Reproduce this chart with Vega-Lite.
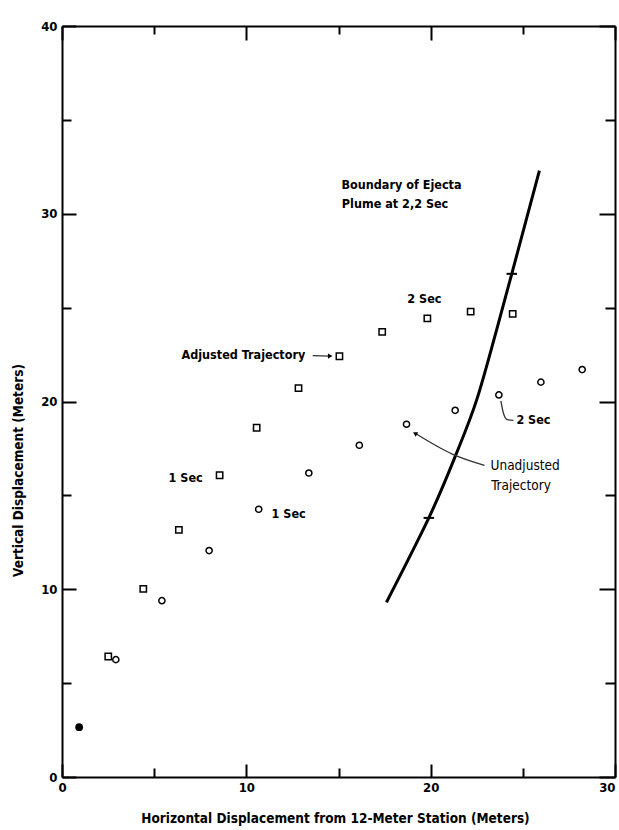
{
  "$schema": "https://vega.github.io/schema/vega-lite/v6.json",
  "width": 553,
  "height": 751,
  "autosize": {"type": "none"},
  "padding": {"left": 62, "top": 26, "right": 4, "bottom": 53},
  "background": "white",
  "config": {
    "view": {"stroke": null},
    "font": "DejaVu Sans Condensed, DejaVu Sans, sans-serif",
    "point": {"opacity": 1},
    "axis": {
      "domainColor": "black",
      "domainWidth": 2,
      "tickColor": "black",
      "tickWidth": 2,
      "grid": false,
      "labelFont": "DejaVu Sans Condensed, DejaVu Sans, sans-serif",
      "labelFontSize": 13,
      "labelFontWeight": "bold",
      "labelColor": "black",
      "titleFont": "DejaVu Sans Condensed, DejaVu Sans, sans-serif",
      "titleFontSize": 13.5,
      "titleFontWeight": "bold",
      "titleColor": "black"
    },
    "text": {"font": "DejaVu Sans Condensed, DejaVu Sans, sans-serif", "fontWeight": "bold", "fontSize": 12.5, "color": "black"}
  },
  "datasets": {
    "adjusted": [
      {"h": 2.51, "v": 6.42}, {"h": 4.41, "v": 10.02}, {"h": 6.34, "v": 13.16},
      {"h": 8.55, "v": 16.07}, {"h": 10.56, "v": 18.6}, {"h": 12.83, "v": 20.71},
      {"h": 15.05, "v": 22.41}, {"h": 17.37, "v": 23.71}, {"h": 19.82, "v": 24.43},
      {"h": 22.17, "v": 24.79}, {"h": 24.45, "v": 24.67}
    ],
    "unadjusted": [
      {"h": 2.92, "v": 6.25}, {"h": 5.42, "v": 9.39}, {"h": 7.98, "v": 12.06},
      {"h": 10.67, "v": 14.26}, {"h": 13.39, "v": 16.19}, {"h": 16.13, "v": 17.67},
      {"h": 18.69, "v": 18.79}, {"h": 21.33, "v": 19.53}, {"h": 23.7, "v": 20.35},
      {"h": 25.98, "v": 21.03}, {"h": 28.22, "v": 21.7}
    ],
    "start": [{"h": 0.93, "v": 2.65}],
    "boundary": [
      {"h": 17.6, "v": 9.3}, {"h": 19.1, "v": 12.2}, {"h": 19.9, "v": 13.8},
      {"h": 21.3, "v": 17.0}, {"h": 22.5, "v": 20.1}, {"h": 23.6, "v": 23.9},
      {"h": 24.4, "v": 26.8}, {"h": 25.9, "v": 32.3}
    ],
    "crossings": [{"h": 19.9, "v": 13.8}, {"h": 24.4, "v": 26.8}],
    "leaders": [
      {"id": "adj", "ord": 1, "h": 13.6, "v": 22.44},
      {"id": "adj", "ord": 2, "h": 14.5, "v": 22.42},
      {"id": "unadj", "ord": 1, "h": 22.92, "v": 16.6},
      {"id": "unadj", "ord": 2, "h": 21.17, "v": 17.2},
      {"id": "unadj", "ord": 3, "h": 19.2, "v": 18.28},
      {"id": "sec2", "ord": 1, "h": 23.81, "v": 20.03},
      {"id": "sec2", "ord": 2, "h": 23.94, "v": 19.4},
      {"id": "sec2", "ord": 3, "h": 24.16, "v": 19.03},
      {"id": "sec2", "ord": 4, "h": 24.49, "v": 19.0}
    ],
    "headRight": [{"h": 14.55, "v": 22.42}],
    "headUpLeft": [{"h": 19.15, "v": 18.3}],
    "notesLeft": [
      {"h": 15.16, "v": 31.54, "label": "Boundary of Ejecta"},
      {"h": 15.18, "v": 30.53, "label": "Plume at 2,2 Sec"},
      {"h": 5.78, "v": 15.93, "label": "1 Sec"},
      {"h": 11.37, "v": 14.03, "label": "1 Sec"},
      {"h": 24.65, "v": 18.99, "label": "2 Sec"}
    ],
    "notesCenter": [{"h": 19.66, "v": 25.47, "label": "2 Sec"}],
    "notesRight": [{"h": 13.2, "v": 22.49, "label": "Adjusted Trajectory"}],
    "notesPlain": [
      {"h": 23.25, "v": 16.55, "label": "Unadjusted"},
      {"h": 23.28, "v": 15.49, "label": "Trajectory"}
    ]
  },
  "resolve": {"axis": {"x": "independent", "y": "independent"}},
  "layer": [
    {
      "data": {"name": "adjusted"},
      "mark": {"type": "point", "shape": "square", "size": 40, "filled": false, "stroke": "black", "strokeWidth": 1.5},
      "encoding": {
        "x": {
          "field": "h", "type": "quantitative",
          "scale": {"domain": [0, 30], "nice": false, "zero": true},
          "axis": {
            "orient": "bottom",
            "values": [0, 5, 10, 15, 20, 25, 30],
            "labelExpr": "datum.value % 10 === 0 ? datum.label : ''",
            "labelAlign": {"condition": {"test": "datum.value === 30", "value": "right"}, "value": "center"},
            "tickSize": {"condition": {"test": "datum.value % 10 === 0", "value": -13}, "value": -9},
            "labelPadding": 17,
            "labelFlush": false,
            "title": "Horizontal Displacement from 12-Meter Station (Meters)",
            "titleX": 273,
            "titleY": 41,
            "titleBaseline": "middle"
          }
        },
        "y": {
          "field": "v", "type": "quantitative",
          "scale": {"domain": [0, 40], "nice": false},
          "axis": {
            "orient": "left",
            "values": [0, 5, 10, 15, 20, 25, 30, 35, 40],
            "labelExpr": "datum.value % 10 === 0 ? datum.label : ''",
            "tickSize": {"condition": {"test": "datum.value % 10 === 0", "value": -14}, "value": -9},
            "labelPadding": 19,
            "labelFlush": false,
            "title": "Vertical Displacement (Meters)",
            "titleX": -44,
            "titleY": 444,
            "titleAngle": -90,
            "titleBaseline": "middle"
          }
        }
      }
    },
    {
      "data": {"name": "unadjusted"},
      "mark": {"type": "point", "shape": "circle", "size": 38, "filled": false, "stroke": "black", "strokeWidth": 1.5},
      "encoding": {
        "x": {
          "field": "h", "type": "quantitative",
          "axis": {
            "orient": "top",
            "values": [0, 5, 10, 15, 20, 25, 30],
            "labels": false,
            "title": null,
            "tickSize": {"condition": {"test": "datum.value % 10 === 0", "value": -14}, "value": -8}
          }
        },
        "y": {
          "field": "v", "type": "quantitative",
          "axis": {
            "orient": "right",
            "values": [0, 5, 10, 15, 20, 25, 30, 35, 40],
            "labels": false,
            "title": null,
            "tickSize": {"condition": {"test": "datum.value % 10 === 0", "value": -16}, "value": -10}
          }
        }
      }
    },
    {
      "data": {"name": "start"},
      "mark": {"type": "point", "shape": "circle", "size": 60, "filled": true, "color": "black"},
      "encoding": {
        "x": {"field": "h", "type": "quantitative", "axis": null},
        "y": {"field": "v", "type": "quantitative", "axis": null}
      }
    },
    {
      "data": {"name": "boundary"},
      "mark": {"type": "line", "color": "black", "strokeWidth": 3, "interpolate": "monotone"},
      "encoding": {
        "x": {"field": "h", "type": "quantitative", "axis": null},
        "y": {"field": "v", "type": "quantitative", "axis": null},
        "order": {"field": "v", "type": "quantitative"}
      }
    },
    {
      "data": {"name": "crossings"},
      "mark": {"type": "point", "shape": "stroke", "size": 110, "stroke": "black", "strokeWidth": 2},
      "encoding": {
        "x": {"field": "h", "type": "quantitative", "axis": null},
        "y": {"field": "v", "type": "quantitative", "axis": null}
      }
    },
    {
      "data": {"name": "leaders"},
      "mark": {"type": "line", "color": "#333", "strokeWidth": 1.3, "interpolate": "monotone"},
      "encoding": {
        "x": {"field": "h", "type": "quantitative", "axis": null},
        "y": {"field": "v", "type": "quantitative", "axis": null},
        "detail": {"field": "id"},
        "order": {"field": "ord", "type": "quantitative"}
      }
    },
    {
      "data": {"name": "headRight"},
      "mark": {"type": "point", "shape": "triangle-right", "size": 28, "filled": true, "color": "black"},
      "encoding": {
        "x": {"field": "h", "type": "quantitative", "axis": null},
        "y": {"field": "v", "type": "quantitative", "axis": null}
      }
    },
    {
      "data": {"name": "headUpLeft"},
      "mark": {"type": "point", "shape": "triangle-up", "size": 26, "filled": true, "color": "black", "angle": 300},
      "encoding": {
        "x": {"field": "h", "type": "quantitative", "axis": null},
        "y": {"field": "v", "type": "quantitative", "axis": null}
      }
    },
    {
      "data": {"name": "notesLeft"},
      "mark": {"type": "text", "align": "left", "baseline": "middle"},
      "encoding": {
        "x": {"field": "h", "type": "quantitative", "axis": null},
        "y": {"field": "v", "type": "quantitative", "axis": null},
        "text": {"field": "label"}
      }
    },
    {
      "data": {"name": "notesCenter"},
      "mark": {"type": "text", "align": "center", "baseline": "middle"},
      "encoding": {
        "x": {"field": "h", "type": "quantitative", "axis": null},
        "y": {"field": "v", "type": "quantitative", "axis": null},
        "text": {"field": "label"}
      }
    },
    {
      "data": {"name": "notesRight"},
      "mark": {"type": "text", "align": "right", "baseline": "middle"},
      "encoding": {
        "x": {"field": "h", "type": "quantitative", "axis": null},
        "y": {"field": "v", "type": "quantitative", "axis": null},
        "text": {"field": "label"}
      }
    },
    {
      "data": {"name": "notesPlain"},
      "mark": {"type": "text", "align": "left", "baseline": "middle", "fontWeight": "normal", "fontSize": 13.5},
      "encoding": {
        "x": {"field": "h", "type": "quantitative", "axis": null},
        "y": {"field": "v", "type": "quantitative", "axis": null},
        "text": {"field": "label"}
      }
    }
  ]
}
